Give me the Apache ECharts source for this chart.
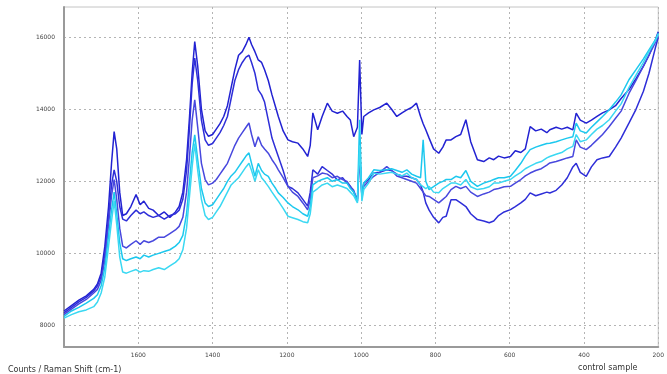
<!DOCTYPE html>
<html>
<head>
<meta charset="utf-8">
<script src="https://cdn.jsdelivr.net/npm/echarts@6/dist/echarts.min.js"></script>
<style>
html,body{margin:0;padding:0;background:#fff;}
#chart{width:667px;height:374px;}
</style>
</head>
<body>
<div id="chart"></div>
<script>
// Raman shift (cm-1)
var shift = [
  1800,1780,1760,1740,1720,1710,1700,1690,1680,1672,
  1665,1658,1650,1642,1632,1620,1606,1595,1585,1572,
  1560,1545,1530,1515,1500,1490,1480,1470,1462,1455,
  1448,1440,1430,1420,1411,1400,1390,1380,1370,1360,
  1350,1340,1330,1320,1310,1302,1295,1286,1277,1268,
  1260,1250,1240,1230,1223,1210,1197,1185,1170,1157,
  1144,1137,1130,1117,1105,1091,1078,1064,1050,1038,
  1029,1020,1010,1004,998,993,980,966,950,931,
  918,904,890,877,864,851,840,833,826,817,
  805,791,780,771,758,745,732,718,705,687,
  670,655,643,630,615,598,585,570,558,545,
  530,515,500,492,475,460,445,430,421,410,
  394,380,365,350,332,315,300,279,260,240,
  225,208,200
];
var spectrumA = [
  8400,8550,8700,8820,9000,9150,9450,10200,11300,12500,
  13380,12900,11700,11050,11100,11300,11630,11350,11450,11250,
  11200,11050,11150,11000,11150,11300,11700,12600,13800,15000,
  15880,15200,14000,13400,13250,13300,13450,13600,13800,14100,
  14600,15100,15500,15600,15800,16000,15800,15600,15370,15300,
  15100,14800,14400,14050,13800,13400,13150,13100,13060,12900,
  12690,13000,13900,13430,13800,14170,13950,13890,13950,13800,
  13700,13240,13500,15370,13300,13800,13900,13985,14050,14170,
  14000,13800,13900,13985,14050,14170,13800,13600,13430,13200,
  12900,12780,12950,13150,13150,13240,13300,13710,13100,12600,
  12550,12650,12600,12700,12650,12690,12850,12800,12900,13520,
  13400,13450,13350,13430,13500,13450,13500,13430,13894,13700,
  13615,13700,13800,13900,13985,14100,14300,14550,14850,15200,
  15500,15925,16150
];
var spectrumB = [
  8350,8500,8650,8780,8950,9100,9350,10000,11000,11900,
  12320,12000,11300,10950,10900,11050,11200,11100,11150,11050,
  11000,11050,10950,11050,11100,11200,11500,12300,13500,14700,
  15420,14800,13700,13150,13000,13050,13200,13350,13550,13800,
  14300,14800,15100,15300,15450,15500,15300,15000,14540,14400,
  14200,13700,13200,12900,12690,12300,11860,11800,11680,11500,
  11310,11700,12320,12200,12410,12300,12200,12040,12100,11950,
  11860,11700,11500,12800,11600,11950,12050,12230,12250,12320,
  12300,12200,12150,12140,12100,12050,11900,11700,11400,11200,
  11000,10846,11000,11030,11490,11490,11400,11300,11100,10937,
  10900,10850,10900,11050,11150,11214,11300,11400,11500,11680,
  11600,11650,11700,11677,11750,11900,12100,12400,12500,12250,
  12140,12400,12600,12650,12690,12950,13200,13615,14000,14500,
  15000,15700,16000
];
var spectrumC = [
  8300,8450,8600,8720,8900,9000,9250,9800,10800,11600,
  12050,11500,10700,10200,10150,10250,10350,10250,10350,10300,
  10350,10450,10450,10550,10650,10750,11000,11700,12700,13700,
  14260,13500,12500,12050,11900,11950,12050,12200,12350,12500,
  12750,13000,13200,13350,13500,13620,13300,12960,13240,13000,
  12900,12780,12600,12450,12320,12100,11860,11700,11580,11400,
  11210,11500,12100,12150,12230,12200,12100,12140,12050,12000,
  11860,11750,11450,12700,11600,11860,12000,12140,12250,12410,
  12300,12150,12100,12050,12000,11950,11800,11700,11600,11580,
  11500,11400,11500,11580,11770,11860,11800,11860,11700,11580,
  11650,11700,11770,11800,11850,11860,11950,12050,12150,12230,
  12300,12350,12450,12510,12550,12600,12650,12690,13150,12950,
  12880,13000,13150,13300,13520,13750,13950,14440,14800,15200,
  15500,15850,16050
];
var spectrumD = [
  8250,8400,8500,8620,8750,8850,9100,9600,10500,11200,
  11700,11100,10300,9850,9800,9850,9900,9850,9950,9900,
  9950,10000,10050,10100,10200,10300,10500,11100,12000,12800,
  13290,12600,11800,11400,11300,11350,11500,11650,11800,12000,
  12150,12250,12400,12550,12700,12790,12500,12140,12500,12300,
  12200,12140,11950,11800,11680,11550,11400,11300,11210,11100,
  11030,11300,11900,12000,12050,12100,12000,12050,11950,11950,
  11800,11700,11450,13710,11500,11950,12100,12320,12300,12320,
  12350,12300,12250,12320,12200,12140,12100,13150,12000,11770,
  11850,11950,12000,12050,12050,12140,12100,12300,12000,11860,
  11950,12000,12050,12100,12100,12140,12300,12500,12700,12880,
  12950,13000,13050,13060,13100,13150,13200,13240,13615,13400,
  13340,13500,13650,13800,13985,14200,14400,14820,15100,15400,
  15650,15925,16100
];
var spectrumE = [
  8200,8300,8380,8430,8520,8650,8900,9350,10200,10900,
  11450,10800,9900,9480,9450,9500,9550,9480,9520,9500,
  9550,9600,9550,9650,9750,9850,10100,10700,11600,12400,
  13050,12300,11500,11050,10940,11000,11150,11300,11500,11700,
  11900,12000,12100,12250,12400,12500,12300,12000,12320,12100,
  12000,11860,11700,11550,11450,11250,11030,10990,10940,10880,
  10850,11100,11700,11800,11900,11950,11850,11900,11850,11800,
  11700,11600,11400,13000,11450,11770,11950,12230,12200,12230,
  12250,12200,12150,12230,12100,12050,11900,11850,11800,11860,
  11700,11680,11800,11860,11950,11950,11900,12050,11850,11770,
  11800,11850,11950,11950,12000,12050,12150,12250,12350,12420,
  12500,12550,12650,12690,12750,12800,12900,12970,13300,13100,
  13150,13300,13450,13550,13710,13950,14150,14600,14950,15300,
  15600,15900,16100
];
var countTicks = [8000, 10000, 12000, 14000, 16000];

function pairs(vals) {
  var out = [];
  for (var i = 0; i < shift.length; i++) out.push([shift[i], vals[i]]);
  return out;
}
function plain(v) { return String(v); }

var chart = echarts.init(document.getElementById('chart'), null, {renderer: 'canvas'});
var font = 'DejaVu Sans';
var seriesDefs = [
  {name: 'A', data: spectrumA, color: '#2222d2'},
  {name: 'B', data: spectrumB, color: '#2e2ed8'},
  {name: 'C', data: spectrumC, color: '#4848de'},
  {name: 'D', data: spectrumD, color: '#1cc8ee'},
  {name: 'E', data: spectrumE, color: '#3ad8f2'}
];
chart.setOption({
  animation: false,
  backgroundColor: '#ffffff',
  title: [
    {text: 'Counts / Raman Shift (cm-1)', left: 3, top: 361,
     textStyle: {fontSize: 8, fontWeight: 'normal', color: '#333', fontFamily: font}},
    {text: 'control sample', left: 573, top: 359,
     textStyle: {fontSize: 8, fontWeight: 'normal', color: '#333', fontFamily: font}}
  ],
  grid: {left: 64, right: 2, top: 7, bottom: 27, show: true,
         borderColor: '#c4c4c4', borderWidth: 1, backgroundColor: '#fff'},
  xAxis: {
    type: 'value', inverse: true, min: 200, max: 1800, interval: 200,
    axisLine: {show: true, onZero: false, lineStyle: {color: '#9a9a9a', width: 2}},
    axisTick: {show: false},
    axisLabel: {showMaxLabel: false, showMinLabel: true, fontSize: 6, color: '#444',
                fontFamily: font, margin: 5, formatter: plain},
    splitLine: {show: true, lineStyle: {color: '#b4b4b4', type: [2, 3], width: 1}}
  },
  yAxis: {
    type: 'value', min: 7400, max: 16840,
    axisLine: {show: true, lineStyle: {color: '#9a9a9a', width: 2}},
    axisTick: {show: false, customValues: countTicks},
    axisLabel: {fontSize: 6, color: '#444', fontFamily: font, margin: 9,
                customValues: countTicks, formatter: plain},
    splitLine: {show: true, lineStyle: {color: '#b4b4b4', type: [2, 3], width: 1}}
  },
  series: seriesDefs.map(function (s) {
    return {
      name: s.name, type: 'line', data: pairs(s.data), showSymbol: false,
      symbol: 'none', lineStyle: {color: s.color, width: 1.5}, itemStyle: {color: s.color}
    };
  })
});
</script>
</body>
</html>
